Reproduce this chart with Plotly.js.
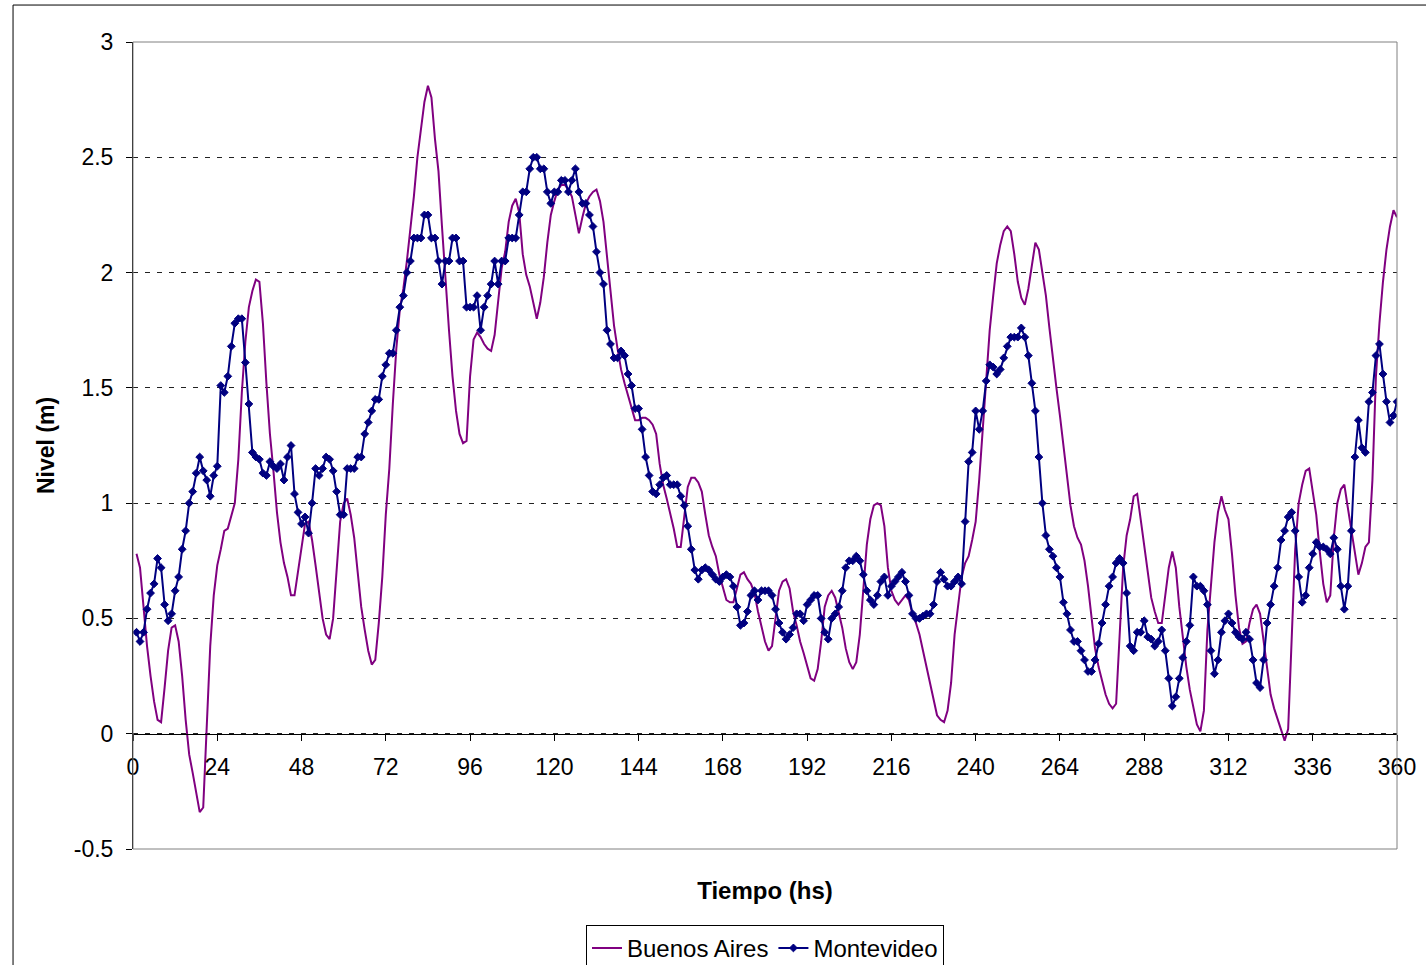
<!DOCTYPE html>
<html>
<head>
<meta charset="utf-8">
<script src="https://cdn.plot.ly/plotly-3.0.1.min.js"></script>
<style>
  html, body { margin: 0; padding: 0; background: #fff; }
  #chart { width: 1426px; height: 965px; }
</style>
</head>
<body>
<div id="chart"></div>
<script>
// Hourly water levels (m), hours 1..360
const buenosAires = [
  0.78, 0.72, 0.55, 0.38, 0.25, 0.14, 0.06, 0.05, 0.20, 0.36,
  0.46, 0.47, 0.40, 0.25, 0.06, -0.09, -0.17, -0.26, -0.34, -0.32,
  0.00, 0.38, 0.60, 0.73, 0.80, 0.88, 0.89, 0.95, 1.00, 1.19,
  1.48, 1.70, 1.85, 1.92, 1.97, 1.96, 1.78, 1.52, 1.30, 1.14,
  0.96, 0.83, 0.74, 0.68, 0.60, 0.60, 0.70, 0.80, 0.91, 0.92,
  0.84, 0.73, 0.62, 0.50, 0.43, 0.41, 0.50, 0.73, 0.92, 1.00,
  1.02, 0.95, 0.85, 0.70, 0.55, 0.45, 0.36, 0.30, 0.32, 0.48,
  0.68, 0.95, 1.15, 1.43, 1.67, 1.84, 1.93, 2.05, 2.18, 2.33,
  2.50, 2.63, 2.74, 2.81, 2.76, 2.58, 2.44, 2.20, 1.95, 1.75,
  1.55, 1.40, 1.30, 1.26, 1.27, 1.55, 1.71, 1.74, 1.72, 1.69,
  1.67, 1.66, 1.73, 1.88, 2.02, 2.09, 2.22, 2.29, 2.32, 2.26,
  2.08, 1.99, 1.94, 1.87, 1.80, 1.87, 1.98, 2.13, 2.25, 2.31,
  2.36, 2.38, 2.38, 2.36, 2.33, 2.25, 2.17, 2.24, 2.30, 2.33,
  2.35, 2.36, 2.31, 2.22, 2.08, 1.93, 1.77, 1.67, 1.58, 1.52,
  1.47, 1.41, 1.36, 1.36, 1.37, 1.37, 1.36, 1.34, 1.30, 1.17,
  1.08, 1.02, 0.96, 0.89, 0.81, 0.81, 0.94, 1.07, 1.11, 1.11,
  1.09, 1.05, 0.95, 0.86, 0.81, 0.77, 0.69, 0.63, 0.58, 0.57,
  0.57, 0.63, 0.69, 0.70, 0.67, 0.65, 0.61, 0.53, 0.46, 0.40,
  0.36, 0.38, 0.50, 0.62, 0.66, 0.67, 0.63, 0.53, 0.47, 0.40,
  0.35, 0.29, 0.24, 0.23, 0.28, 0.40, 0.55, 0.60, 0.62, 0.59,
  0.53, 0.46, 0.37, 0.31, 0.28, 0.31, 0.43, 0.62, 0.82, 0.93,
  0.99, 1.00, 0.99, 0.90, 0.72, 0.62, 0.58, 0.56, 0.58, 0.60,
  0.58, 0.52, 0.48, 0.43, 0.36, 0.29, 0.22, 0.14, 0.08, 0.06,
  0.05, 0.10, 0.22, 0.43, 0.56, 0.68, 0.74, 0.77, 0.84, 0.92,
  1.10, 1.33, 1.56, 1.75, 1.90, 2.04, 2.12, 2.18, 2.20, 2.18,
  2.08, 1.96, 1.89, 1.86, 1.93, 2.04, 2.13, 2.10, 2.00, 1.90,
  1.76, 1.62, 1.50, 1.38, 1.25, 1.12, 0.99, 0.90, 0.85, 0.82,
  0.75, 0.64, 0.50, 0.37, 0.29, 0.23, 0.17, 0.13, 0.11, 0.13,
  0.45, 0.72, 0.86, 0.93, 1.03, 1.04, 0.93, 0.81, 0.70, 0.59,
  0.53, 0.48, 0.48, 0.60, 0.72, 0.79, 0.72, 0.55, 0.42, 0.29,
  0.19, 0.11, 0.04, 0.01, 0.10, 0.45, 0.63, 0.83, 0.96, 1.03,
  0.97, 0.93, 0.78, 0.60, 0.46, 0.39, 0.40, 0.48, 0.54, 0.56,
  0.52, 0.40, 0.27, 0.17, 0.11, 0.06, 0.02, -0.03, 0.02, 0.45,
  0.80, 1.00, 1.08, 1.14, 1.15, 1.05, 0.95, 0.79, 0.65, 0.57,
  0.60, 0.85, 1.00, 1.06, 1.08, 0.98, 0.88, 0.77, 0.69, 0.74,
  0.81, 0.83, 1.10, 1.55, 1.78, 1.96, 2.10, 2.20, 2.27, 2.24
];

const montevideo = [
  0.44, 0.40, 0.44, 0.54, 0.61, 0.65, 0.76, 0.72, 0.56, 0.49,
  0.52, 0.62, 0.68, 0.80, 0.88, 1.00, 1.05, 1.13, 1.20, 1.14,
  1.10, 1.03, 1.12, 1.16, 1.51, 1.48, 1.55, 1.68, 1.78, 1.80,
  1.80, 1.61, 1.43, 1.22, 1.20, 1.19, 1.13, 1.12, 1.18, 1.16,
  1.15, 1.17, 1.10, 1.20, 1.25, 1.04, 0.96, 0.91, 0.94, 0.87,
  1.00, 1.15, 1.12, 1.15, 1.20, 1.19, 1.14, 1.05, 0.95, 0.95,
  1.15, 1.15, 1.15, 1.20, 1.20, 1.30, 1.35, 1.40, 1.45, 1.45,
  1.55, 1.60, 1.65, 1.65, 1.75, 1.85, 1.90, 2.00, 2.05, 2.15,
  2.15, 2.15, 2.25, 2.25, 2.15, 2.15, 2.05, 1.95, 2.05, 2.05,
  2.15, 2.15, 2.05, 2.05, 1.85, 1.85, 1.85, 1.90, 1.75, 1.85,
  1.90, 1.95, 2.05, 1.95, 2.05, 2.05, 2.15, 2.15, 2.15, 2.25,
  2.35, 2.35, 2.45, 2.50, 2.50, 2.45, 2.45, 2.35, 2.30, 2.35,
  2.35, 2.40, 2.40, 2.35, 2.40, 2.45, 2.35, 2.30, 2.30, 2.25,
  2.20, 2.09, 2.00, 1.95, 1.75, 1.69, 1.63, 1.63, 1.66, 1.64,
  1.56, 1.51, 1.41, 1.41, 1.32, 1.20, 1.12, 1.05, 1.04, 1.08,
  1.11, 1.12, 1.08, 1.08, 1.08, 1.03, 0.99, 0.90, 0.80, 0.71,
  0.67, 0.71, 0.72, 0.71, 0.69, 0.67, 0.66, 0.68, 0.69, 0.68,
  0.64, 0.55, 0.47, 0.48, 0.53, 0.60, 0.62, 0.58, 0.62, 0.62,
  0.62, 0.60, 0.54, 0.48, 0.44, 0.41, 0.43, 0.46, 0.52, 0.52,
  0.49, 0.56, 0.58, 0.60, 0.60, 0.50, 0.44, 0.41, 0.50, 0.52,
  0.55, 0.62, 0.72, 0.75, 0.75, 0.77, 0.75, 0.69, 0.62, 0.58,
  0.56, 0.60, 0.66, 0.68, 0.60, 0.64, 0.66, 0.68, 0.70, 0.66,
  0.60, 0.52, 0.50, 0.50, 0.51, 0.52, 0.52, 0.56, 0.66, 0.70,
  0.67, 0.64, 0.64, 0.66, 0.68, 0.65, 0.92, 1.18, 1.22, 1.40,
  1.32, 1.40, 1.53, 1.60, 1.59, 1.56, 1.58, 1.63, 1.68, 1.72,
  1.72, 1.72, 1.76, 1.72, 1.64, 1.52, 1.40, 1.20, 1.00, 0.86,
  0.80, 0.77, 0.72, 0.68, 0.57, 0.52, 0.45, 0.40, 0.40, 0.36,
  0.32, 0.27, 0.27, 0.32, 0.39, 0.48, 0.56, 0.64, 0.68, 0.74,
  0.76, 0.74, 0.61, 0.38, 0.36, 0.44, 0.44, 0.49, 0.42, 0.41,
  0.38, 0.40, 0.45, 0.36, 0.24, 0.12, 0.16, 0.24, 0.33, 0.40,
  0.47, 0.68, 0.64, 0.64, 0.62, 0.56, 0.36, 0.26, 0.32, 0.44,
  0.49, 0.52, 0.48, 0.44, 0.42, 0.41, 0.44, 0.41, 0.32, 0.22,
  0.20, 0.32, 0.48, 0.56, 0.64, 0.72, 0.84, 0.88, 0.94, 0.96,
  0.88, 0.68, 0.57, 0.60, 0.72, 0.78, 0.83, 0.81, 0.81, 0.80,
  0.78, 0.85, 0.80, 0.64, 0.54, 0.64, 0.88, 1.20, 1.36, 1.24,
  1.22, 1.44, 1.48, 1.64, 1.69, 1.56, 1.44, 1.35, 1.38, 1.44
];

const hours = buenosAires.map((_, i) => i + 1);

const xTickVals = [0, 24, 48, 72, 96, 120, 144, 168, 192, 216, 240, 264, 288, 312, 336, 360];
const yTickVals = [-0.5, 0, 0.5, 1, 1.5, 2, 2.5, 3];
const yTickText = ['-0.5', '0', '0.5', '1', '1.5', '2', '2.5', '3'];

const FONT = 'Liberation Sans, Arial, sans-serif';

const traces = [
  {
    x: hours, y: buenosAires, name: 'Buenos Aires', type: 'scatter', mode: 'lines',
    line: { color: '#800080', width: 2 }
  },
  {
    x: hours, y: montevideo, name: 'Montevideo', type: 'scatter', mode: 'lines+markers',
    line: { color: '#000080', width: 2 },
    marker: { symbol: 'diamond', size: 6, color: '#000080', line: { color: '#000080', width: 1 } }
  }
];

// y = 0 in paper fraction (range -0.5..3)
const zeroPos = 0.5 / 3.5;

const layout = {
  width: 1426, height: 965,
  margin: { l: 133, r: 29, t: 42, b: 116, autoexpand: false },
  paper_bgcolor: '#ffffff', plot_bgcolor: '#ffffff',
  font: { family: FONT, size: 23, color: '#000' },
  showlegend: true,
  legend: {
    orientation: 'h', x: 0.5, xanchor: 'center', y: -0.094, yanchor: 'top',
    bordercolor: '#000', borderwidth: 1, bgcolor: '#fff',
    font: { family: FONT, size: 24, color: '#000' },
    itemwidth: 30, tracegroupgap: 0
  },
  xaxis: {
    range: [0, 360], tickvals: xTickVals, ticktext: xTickVals.map(String),
    anchor: 'free', position: zeroPos, automargin: false,
    showline: true, linecolor: '#000', linewidth: 1,
    ticks: 'outside', ticklen: 6, tickcolor: '#000',
    showgrid: false, zeroline: false,
    ticklabelstandoff: 7,
    tickfont: { family: FONT, size: 23, color: '#000' },
    title: { text: 'Tiempo (hs)', font: { family: FONT, size: 24, color: '#000', weight: 'bold' }, standoff: 102 }
  },
  yaxis: {
    range: [-0.5, 3], tickvals: yTickVals, ticktext: yTickText, automargin: false,
    showline: true, linecolor: '#000', linewidth: 1,
    ticks: 'outside', ticklen: 6, tickcolor: '#000',
    showgrid: true, gridcolor: '#222', gridwidth: 1, griddash: '5px,7px',
    zeroline: false,
    ticklabelstandoff: 8,
    tickfont: { family: FONT, size: 23, color: '#000' },
    title: { text: 'Nivel (m)', font: { family: FONT, size: 23, color: '#000', weight: 'bold' }, standoff: 12 }
  },
  shapes: [
    { type: 'rect', xref: 'paper', yref: 'paper', x0: 0, x1: 1, y0: 0, y1: 1,
      line: { color: '#808080', width: 1 }, layer: 'above' },
    { type: 'rect', xref: 'paper', yref: 'paper', x0: -0.0949, x1: 1.05, y0: -0.2, y1: 1.0458,
      line: { color: '#000', width: 1 }, layer: 'above' }
  ]
};

Plotly.newPlot('chart', traces, layout, { displayModeBar: false, staticPlot: true });
</script>
</body>
</html>
